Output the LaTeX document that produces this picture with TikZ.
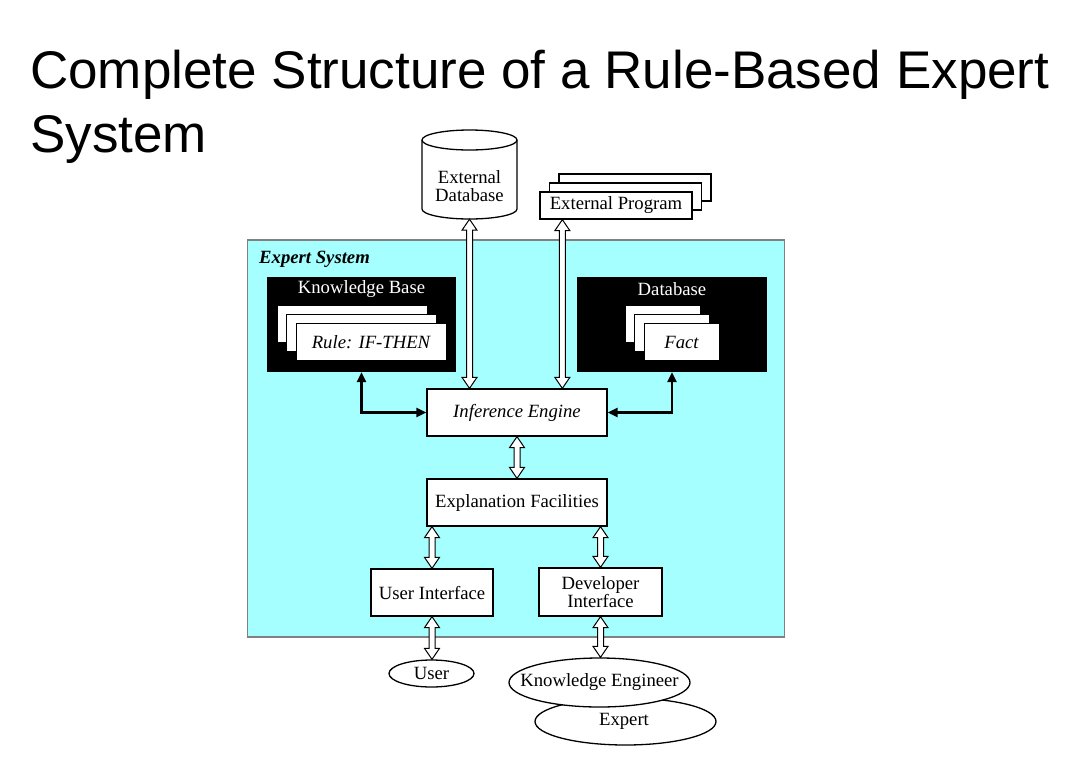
\documentclass[tikz,border=0pt]{standalone}
\usepackage{fontspec}
\setmainfont{Liberation Serif}
\newfontfamily\titlefont{Liberation Sans}
\usetikzlibrary{calc,arrows.meta,shapes.geometric}
\definecolor{esfill}{RGB}{166,255,255}
\definecolor{esborder}{RGB}{128,128,128}
\tikzset{
  base/.style={font=\fontsize{18.7}{19}\selectfont, text=black},
  box/.style={base, draw=black, line width=1.3pt, fill=white, inner sep=0pt},
  card/.style={draw=black, line width=1pt, fill=white, inner sep=0pt, minimum height=37pt},
  blackbox/.style={fill=black, inner sep=0pt},
  hollow/.style={draw=black, line width=1pt, fill=white, line join=miter},
  thickarrow/.style={line width=2.8pt, {Triangle[length=10pt,width=9pt]}-{Triangle[length=10pt,width=9pt]}},
  ell/.style={base, ellipse, draw=black, line width=1.3pt, fill=white, inner sep=0pt},
  ttl/.style={anchor=base west, inner sep=0pt, font=\titlefont\fontsize{53}{64}\selectfont},
}
\newcommand\hollowarrow[2]{%
  \draw[hollow] let \p1=(#1), \p2=(#2) in
    (\x1,\y1) -- (\x1+7.5pt,\y1-11pt) -- (\x1+3pt,\y1-11pt) -- (\x1+3pt,\y2+11pt)
    -- (\x1+7.5pt,\y2+11pt) -- (\x1,\y2) -- (\x1-7.5pt,\y2+11pt) -- (\x1-3pt,\y2+11pt)
    -- (\x1-3pt,\y1-11pt) -- (\x1-7.5pt,\y1-11pt) -- cycle;}
\begin{document}
\begin{tikzpicture}[x=1pt,y=-1pt]
\useasboundingbox[fill=white] (0,0) rectangle (1085,756);

% title
\node[ttl] (t1) at (30,88) {Complete Structure of a Rule-Based Expert};
\node[ttl] (t2) at (30,152) {System};

% expert system frame
\node[draw=esborder, line width=1.3pt, fill=esfill, minimum width=537pt, minimum height=397pt, inner sep=0pt] (es) at (516,438.5) {};
\node[base, anchor=base west, inner sep=0pt, font=\fontsize{18.7}{19}\selectfont\bfseries\itshape] (esl) at (259,263) {Expert System};

% knowledge base
\node[blackbox, minimum width=189pt, minimum height=95pt] (kb) at (361.5,324.5) {};
\node[base, text=white, inner sep=0pt] (kbl) at (361.5,289) {Knowledge Base};
\node[card, minimum width=150pt] (r1) at (352,324) {};
\node[card, minimum width=150pt] (r2) at (361.5,333) {};
\node[card, minimum width=150pt, base, font=\fontsize{18.7}{19}\selectfont\itshape] (r3) at (371,342) {Rule: IF-THEN};

% database
\node[blackbox, minimum width=190pt, minimum height=95pt] (db) at (672,324.5) {};
\node[base, text=white, inner sep=0pt] (dbl) at (672,289) {Database};
\node[card, minimum width=75pt] (f1) at (662.5,324) {};
\node[card, minimum width=75pt] (f2) at (672,333) {};
\node[card, minimum width=75pt, base, font=\fontsize{18.7}{19}\selectfont\itshape] (f3) at (681.5,342) {Fact};

% inner boxes
\node[box, minimum width=180pt, minimum height=47pt, font=\fontsize{18.7}{19}\selectfont\itshape] (ie) at (517,412.5) {Inference Engine};
\node[box, minimum width=180pt, minimum height=47pt] (ef) at (517,502.5) {Explanation Facilities};
\node[box, minimum width=122pt, minimum height=47pt] (ui) at (432,592.5) {User Interface};
\node[box, minimum width=123pt, minimum height=48pt, align=center, font=\fontsize{18.7}{18}\selectfont] (di) at (600.5,592) {Developer\\Interface};

% external database (cylinder)
\node[inner sep=0pt, minimum width=95pt, minimum height=89pt] (extdb) at (469.5,174.5) {};
\draw[line width=1.3pt, fill=white] (422,140) -- (422,209)
  arc[start angle=180, end angle=360, x radius=47.5pt, y radius=10pt] -- (517,140);
\draw[line width=1.3pt, fill=white] (469.5,140) ellipse[x radius=47.5pt, y radius=10pt];
\node[base, align=center, inner sep=0pt] (extdbl) at (469.5,186) {External\\[-1pt]Database};

% external program (stacked)
\node[box, minimum width=152pt, minimum height=27pt] (ep3) at (635,187.5) {};
\node[box, minimum width=152pt, minimum height=27pt] (ep2) at (625.5,196.5) {};
\node[box, minimum width=152pt, minimum height=27pt] (ep) at (616,205.5) {External Program};
\coordinate (epx) at ([xshift=23pt]ep.south west);

% users
\node[ell, minimum width=181pt, minimum height=47pt] (ex) at (625.5,721.5) {\hspace*{-3pt}Expert};
\node[ell, inner xsep=-25pt, minimum width=181pt, minimum height=49pt] (ke) at (599.5,682.5) {Knowledge Engineer};
\node[ell, minimum width=85pt, minimum height=27pt] (us) at (431.5,673.5) {User};

% hollow double arrows
\hollowarrow{extdb.south}{extdb.south |- ie.north}
\hollowarrow{epx}{epx |- ie.north}
\hollowarrow{ie.south}{ef.north}
\hollowarrow{ui.north |- ef.south}{ui.north}
\hollowarrow{di.north |- ef.south}{di.north}
\hollowarrow{ui.south}{us.north}
\hollowarrow{di.south}{ke.north}

% thick arrows
\draw[thickarrow] (kb.south) |- (ie.west);
\draw[thickarrow] (db.south) |- (ie.east);
\end{tikzpicture}
\end{document}
